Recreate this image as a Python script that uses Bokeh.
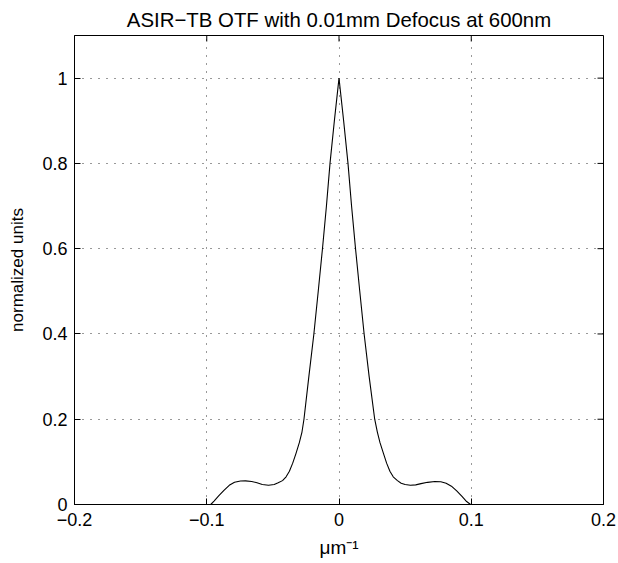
import numpy as np
from bokeh.plotting import figure
from bokeh.models import Range1d, FixedTicker
from bokeh.embed import file_html
from bokeh.resources import INLINE

# ---- data ----
x_vals = [-0.2, -0.097, -0.0945, -0.091, -0.087, -0.083, -0.079, -0.0745, -0.0707,
          -0.066, -0.062, -0.058, -0.0533, -0.049, -0.046, -0.0427, -0.040,
          -0.0375, -0.035, -0.0325, -0.030, -0.028, -0.0265, -0.0228, -0.019,
          -0.0157, -0.0125, -0.0095, -0.0068, -0.0035,
          0.0,
          0.0035, 0.0068, 0.0095, 0.0125, 0.0157, 0.019, 0.0228, 0.027, 0.029,
          0.031, 0.0336, 0.036, 0.0385, 0.041, 0.0442, 0.047, 0.050, 0.054,
          0.058, 0.062, 0.067, 0.0725, 0.077, 0.081, 0.085, 0.089, 0.093,
          0.0965, 0.0995, 0.2]
y_vals = [0.0, 0.0, 0.008, 0.020, 0.033, 0.045, 0.052, 0.055, 0.0555,
          0.054, 0.051, 0.047, 0.045, 0.047, 0.051, 0.056, 0.065,
          0.078, 0.097, 0.12, 0.145, 0.17, 0.2, 0.3, 0.4,
          0.5, 0.6, 0.7, 0.8, 0.9,
          1.0,
          0.9, 0.8, 0.7, 0.6, 0.5, 0.4, 0.3, 0.2, 0.17,
          0.145, 0.12, 0.097, 0.078, 0.065, 0.056, 0.050, 0.047, 0.045,
          0.046, 0.049, 0.052, 0.054, 0.0535, 0.050, 0.043, 0.032, 0.019,
          0.007, 0.0, 0.0]

x_ticks = [-0.2, -0.1, 0.0, 0.1, 0.2]
x_tick_labels = ["\u22120.2", "\u22120.1", "0", "0.1", "0.2"]
y_ticks = [0.0, 0.2, 0.4, 0.6, 0.8, 1.0]
y_tick_labels = ["0", "0.2", "0.4", "0.6", "0.8", "1"]

title_text = "ASIR\u2212TB OTF with 0.01mm Defocus at 600nm"
x_label = "\u03bcm\u207b\u00b9"
y_label = "normalized units"

FONT = "Liberation Sans"
TICK_FS = "18px"
X_MIN, X_MAX = -0.2, 0.2
Y_MIN, Y_MAX = 0.0, 1.1

p = figure(width=618, height=563, output_backend="svg", toolbar_location=None,
           x_range=Range1d(X_MIN, X_MAX), y_range=Range1d(Y_MIN, Y_MAX),
           min_border_left=74, min_border_right=15, min_border_top=35,
           min_border_bottom=59)

p.title.text = title_text
p.title.align = "center"
p.title.text_font = FONT
p.title.text_font_size = "20.4px"
p.title.text_font_style = "normal"
p.title.text_color = "black"
p.title.standoff = 9

p.outline_line_color = "black"
p.outline_line_width = 1
p.background_fill_color = "white"
p.border_fill_color = "white"

def style_axis(ax, ticks, labels):
    ax.ticker = FixedTicker(ticks=ticks)
    ax.major_label_overrides = {t: l for t, l in zip(ticks, labels)}
    ax.major_tick_in = 6
    ax.major_tick_out = 0
    ax.minor_tick_in = 0
    ax.minor_tick_out = 0
    ax.axis_line_color = "black"
    ax.major_tick_line_color = "black"
    ax.major_label_text_font = FONT
    ax.major_label_text_color = "black"
    ax.major_label_text_font_size = TICK_FS
    ax.axis_label_text_font = FONT
    ax.axis_label_text_font_style = "normal"
    ax.axis_label_text_color = "black"

xa = p.xaxis[0]
style_axis(xa, x_ticks, x_tick_labels)
xa.axis_label = x_label
xa.axis_label_text_font_size = "19px"
xa.axis_label_standoff = 8
xa.major_label_standoff = 8

ya = p.yaxis[0]
style_axis(ya, y_ticks, y_tick_labels)
ya.axis_label = y_label
ya.axis_label_text_font_size = "17px"
ya.axis_label_standoff = 12
ya.major_label_standoff = 7

# tick marks on the top and right edges of the box
p.ray(x=x_ticks, y=[Y_MAX] * len(x_ticks), length=6, length_units="screen",
      angle=-np.pi / 2, line_color="black", line_width=1)
p.ray(x=[X_MAX] * len(y_ticks), y=y_ticks, length=6, length_units="screen",
      angle=np.pi, line_color="black", line_width=1)

for g in (p.xgrid[0], p.ygrid[0]):
    g.grid_line_color = "black"
    g.grid_line_dash = "1 7"
    g.grid_line_width = 1
    g.grid_line_alpha = 0.8
p.xgrid[0].ticker = FixedTicker(ticks=x_ticks)
p.ygrid[0].ticker = FixedTicker(ticks=y_ticks)

p.line(x_vals, y_vals, line_color="black", line_width=1.1)

open("out.html", "w").write(file_html(p, INLINE))
